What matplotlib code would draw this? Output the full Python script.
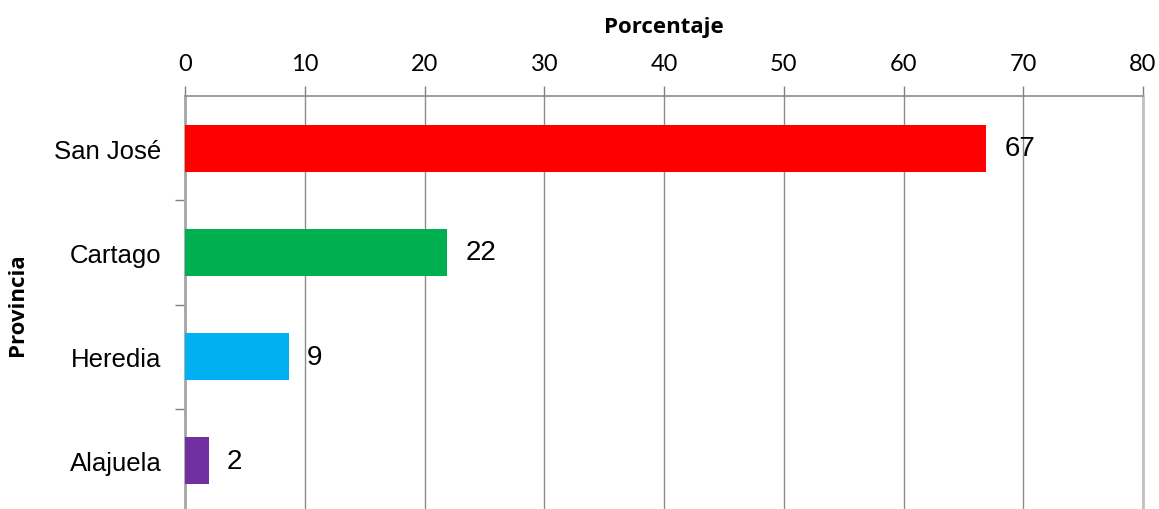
import matplotlib
matplotlib.use("Agg")
import matplotlib.pyplot as plt
from matplotlib.ticker import MultipleLocator

provincias = ["San José", "Cartago", "Heredia", "Alajuela"]
porcentajes = [66.9, 21.9, 8.7, 2.0]
etiquetas = ["67", "22", "9", "2"]
colores = ["#FF0000", "#00B050", "#00B0F0", "#7030A0"]
xticks = [0, 10, 20, 30, 40, 50, 60, 70, 80]

W, H = 1159, 510
fig = plt.figure(figsize=(W / 100, H / 100), dpi=100)
left, right, top, bottom = 185, 1143, 97, 514
ax = fig.add_axes([left / W, 1 - bottom / H, (right - left) / W, (bottom - top) / H])

ypos = list(range(len(provincias)))
ax.barh(ypos, porcentajes, height=0.45, color=colores, zorder=3)
for y, v, t in zip(ypos, porcentajes, etiquetas):
    ax.annotate(t, (v, y), xytext=(13, 0), textcoords="offset points",
                va="center", ha="left", fontsize=20, family="Liberation Sans",
                color="black", zorder=4)

ax.set_xlim(0, 80)
ax.set_ylim(3.5, -0.5)
ax.set_xticks(xticks)
ax.xaxis.tick_top()
ax.xaxis.set_label_position("top")
ax.tick_params(axis="x", which="major", length=7, width=1, color="#808080",
               labelsize=17, pad=9, direction="out")
for lab in ax.get_xticklabels():
    lab.set_family("Lato")

ax.set_yticks(ypos)
ax.set_yticklabels(provincias, family="Liberation Sans", fontsize=18.5)
ax.tick_params(axis="y", which="major", length=0, pad=17)
ax.set_yticks([0.5, 1.5, 2.5], minor=True)
ax.tick_params(axis="y", which="minor", length=7, width=1, color="#808080")

ax.grid(axis="x", color="#8c8c8c", linewidth=1, zorder=0)
ax.set_axisbelow(True)
ax.spines["top"].set_color("#8c8c8c")
ax.spines["top"].set_linewidth(1.2)
ax.spines["left"].set_color("#a6a6a6")
ax.spines["left"].set_linewidth(2)
ax.spines["right"].set_color("#c0c0c0")
ax.spines["right"].set_linewidth(2)
ax.spines["bottom"].set_visible(False)

fig.text((left + right) / 2 / W, 1 - 27 / H, "Porcentaje", ha="center", va="center",
         fontsize=16, fontweight="bold", family="Open Sans")
fig.text(18 / W, 1 - 305 / H, "Provincia", ha="center", va="center", rotation=90,
         fontsize=16, fontweight="bold", family="Open Sans")

fig.savefig("out.png", dpi=100)
